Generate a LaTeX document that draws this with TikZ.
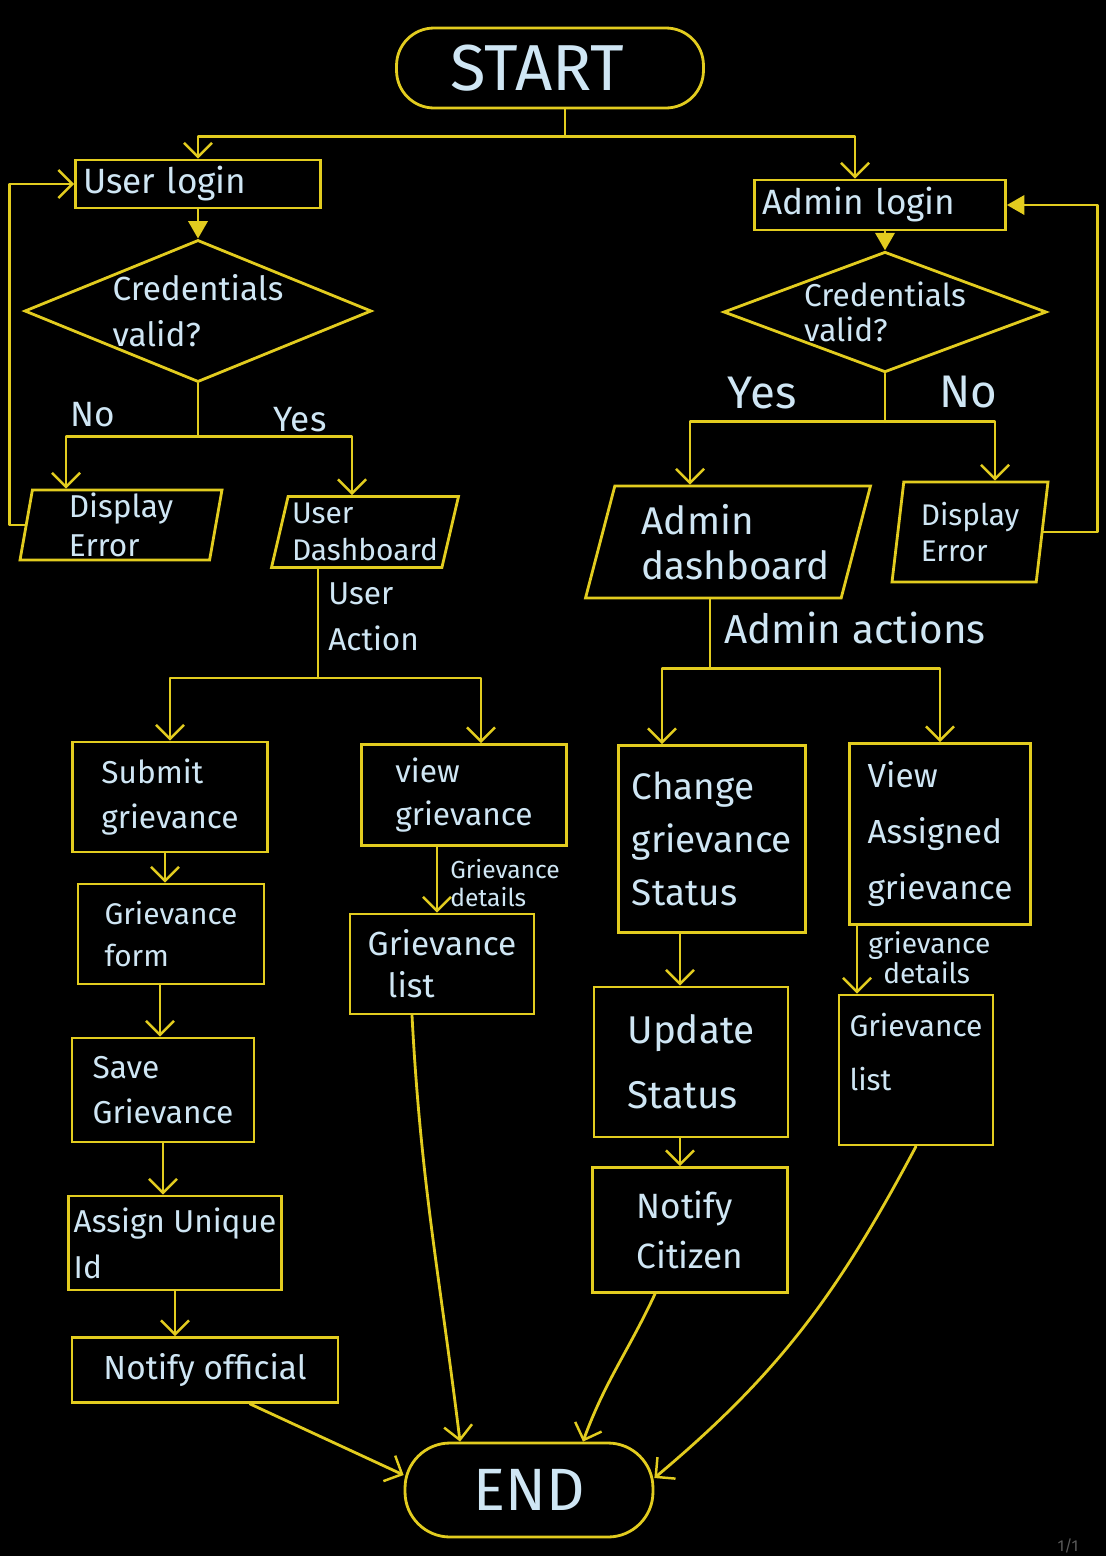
\documentclass[tikz,border=0pt]{standalone}
\usepackage{fontspec}
\setmainfont{Fira Sans}
\usetikzlibrary{shapes.geometric,arrows.meta}

\definecolor{hand}{HTML}{E2CC1F}
\definecolor{ink}{HTML}{CFE6F4}
\definecolor{pagegray}{HTML}{5A5A5A}
\newcommand{\hw}[2]{\fontsize{#1}{#2}\selectfont}

\tikzset{
  ln/.style={draw=hand, line width=1.6pt, line cap=round, line join=round},
  arr/.style={ln, -{Straight Barb[length=8pt,width=16pt,line width=1.4pt]}},
  farr/.style={ln, -{Triangle[length=10pt,width=11pt]}},
  box/.style={draw=hand, line width=1.6pt, text=ink, align=left, inner sep=0pt},
  pill/.style={box, rectangle, rounded corners=0.75cm},
  para/.style 2 args={box, trapezium, trapezium stretches body,
    trapezium left angle=#1, trapezium right angle=#2},
  ask/.style={box, diamond, aspect=#1},
  lbl/.style={text=ink, align=left, inner sep=0pt},
}

\begin{document}
\begin{tikzpicture}[x=0.02cm, y=-0.02cm]
  \fill[black] (0,0) rectangle (1106,1556);
  \useasboundingbox (0,0) rectangle (1106,1556);

  % Start and login boxes
  \node[pill, minimum width=6.14cm, minimum height=1.6cm, font=\hw{37}{40}] (start) at (550,68) {START\hspace*{0.5cm}};
  \node[box, minimum width=4.9cm, minimum height=0.96cm, text width=4.6cm, font=\hw{20}{24}] (ulogin) at (198,184) {User login};
  \node[box, minimum width=5.02cm, minimum height=1.0cm, text width=4.7cm, font=\hw{20}{24}] (alogin) at (880,205) {Admin login};

  % Checks
  \node[ask=2.44, minimum width=6.94cm, minimum height=2.84cm, font=\hw{19}{26}] (ucheck) at (198,311) {Credentials\\valid?};
  \node[ask=2.68, minimum width=6.44cm, minimum height=2.4cm, font=\hw{18}{20}] (acheck) at (885,312) {Credentials\\valid?};

  % Outcomes of the checks
  \node[lbl, font=\hw{20}{24}] (uno) at (93,415) {No};
  \node[lbl, font=\hw{20}{24}] (uyes) at (300,420) {Yes};
  \node[lbl, font=\hw{26}{28}] (ayes) at (762,393) {Yes};
  \node[lbl, font=\hw{26}{28}] (ano) at (968,392) {No};
  \node[para={79}{101}, minimum width=4.04cm, minimum height=1.4cm, font=\hw{18}{22}] (uerr) at (121,525) {Display\\Error};
  \node[para={74}{106}, minimum width=3.74cm, minimum height=1.42cm, font=\hw{17}{21}] (udash) at (365,532) {User\\Dashboard};
  \node[para={69}{111}, minimum width=5.7cm, minimum height=2.24cm, font=\hw{22}{26}] (adash) at (728,542) {\hspace*{0.3cm}Admin\\\hspace*{0.3cm}dashboard};
  \node[para={79}{101}, minimum width=3.12cm, minimum height=2.0cm, font=\hw{17}{21}] (aerr) at (970,532) {Display\\Error};

  % User side
  \node[lbl, anchor=west, font=\hw{18}{26}] (uactlbl) at (328,617) {User\\Action};
  \node[box, minimum width=3.9cm, minimum height=2.2cm, font=\hw{18}{26}] (submit) at (170,797) {Submit\\grievance};
  \node[box, minimum width=3.72cm, minimum height=2.0cm, font=\hw{17}{24}] (gform) at (171,934) {Grievance\\form};
  \node[box, minimum width=3.64cm, minimum height=2.08cm, font=\hw{18}{26}] (gsave) at (163,1090) {Save\\Grievance};
  \node[box, minimum width=4.26cm, minimum height=1.88cm, font=\hw{18}{26}] (gid) at (175,1243) {Assign Unique\\Id};
  \node[box, minimum width=5.32cm, minimum height=1.3cm, font=\hw{19}{24}] (notifyo) at (205,1370) {Notify official};
  \node[box, minimum width=4.1cm, minimum height=2.02cm, font=\hw{18}{24}] (viewg) at (464,795) {view\\grievance};
  \node[lbl, anchor=west, font=\hw{14}{16}] (udet) at (450,883) {Grievance\\details};
  \node[box, minimum width=3.68cm, minimum height=2.0cm, font=\hw{19}{24}] (ulist) at (442,964) {Grievance\\\hspace*{0.4cm}list};

  % Admin side
  \node[lbl, font=\hw{23}{26}] (aactlbl) at (855,628) {Admin actions};
  \node[box, minimum width=3.74cm, minimum height=3.74cm, font=\hw{21}{30}] (chg) at (712,839) {Change\\grievance\\Status};
  \node[box, minimum width=3.62cm, minimum height=3.62cm, font=\hw{19}{32}] (viewa) at (940,834) {View\\Assigned\\grievance};
  \node[lbl, anchor=west, font=\hw{16}{17}] (adet) at (868,958) {grievance\\\hspace*{0.3cm}details};
  \node[box, minimum width=3.88cm, minimum height=3.0cm, font=\hw{22}{37}] (upd) at (691,1062) {Update\\Status};
  \node[box, minimum width=3.9cm, minimum height=2.5cm, font=\hw{20}{28}] (notifyc) at (690,1230) {Notify\\Citizen};
  \node[box, minimum width=3.08cm, minimum height=3.0cm, text depth=0.72cm, font=\hw{17}{31}] (alist) at (916,1070) {Grievance\\list};

  % End
  \node[pill, minimum width=4.96cm, minimum height=1.88cm, rounded corners=0.9cm, font=\hw{34}{38}] (stop) at (529,1490) {END};
  \node[text=pagegray, inner sep=0pt, font=\hw{9}{10}] (page) at (1068,1546) {1/1};

  % Connectors from start
  \draw[ln] ([xshift=0.3cm]start.south) -- ++(0,27) coordinate (split);
  \draw[arr] (split) -| (ulogin.north);
  \draw[arr] (split) -| ([xshift=-0.5cm]alogin.north);
  \draw[farr] (ulogin.south) -- (ucheck.north);
  \draw[farr] (acheck.north |- alogin.south) -- (acheck.north);

  % User branch
  \draw[ln] (ucheck.south) -- ++(0,53) coordinate (ufork);
  \draw[arr] (ufork) -| ([xshift=-1.1cm]uerr.north);
  \draw[arr] (ufork) -| ([xshift=-0.26cm]udash.north);
  \draw[arr] (uerr.west) -- ++(-15,0) |- (ulogin.west);
  \draw[ln] ([xshift=-0.94cm]udash.south) -- ++(0,109) coordinate (uact);
  \draw[arr] (uact) -| (submit.north);
  \draw[arr] (uact) -| ([xshift=0.34cm]viewg.north);
  \draw[arr] ([xshift=-0.1cm]submit.south) -- ([xshift=-0.1cm]submit.south |- gform.north);
  \draw[arr] ([xshift=-0.22cm]gform.south) -- ([xshift=-0.22cm]gform.south |- gsave.north);
  \draw[arr] (gsave.south) -- (gsave.south |- gid.north);
  \draw[arr] (gid.south) -- (gid.south |- notifyo.north);
  \draw[arr] ([xshift=0.9cm]notifyo.south) -- ([yshift=0.3cm]stop.west);
  \draw[arr] ([xshift=-0.54cm]viewg.south) -- ([xshift=-0.54cm]viewg.south |- ulist.north);
  \draw[arr] ([xshift=-0.6cm]ulist.south) to[out=-87, in=97] ([xshift=-1.38cm]stop.north);

  % Admin branch
  \draw[ln] (acheck.south) -- ++(0,48) coordinate (afork);
  \draw[arr] (afork) -| ([xshift=-0.76cm]adash.north);
  \draw[arr] (afork) -| ([xshift=0.5cm]aerr.north);
  \draw[farr] (aerr.east) -- ++(54,0) |- (alogin.east);
  \draw[ln] ([xshift=-0.36cm]adash.south) -- ++(0,69) coordinate (aact);
  \draw[arr] (aact) -| ([xshift=-1cm]chg.north);
  \draw[arr] (aact) -| (viewa.north);
  \draw[arr] ([xshift=-0.64cm]chg.south) -- ([xshift=-0.64cm]chg.south |- upd.north);
  \draw[arr] ([xshift=-0.22cm]upd.south) -- ([xshift=-0.22cm]upd.south |- notifyc.north);
  \draw[arr] ([xshift=-0.7cm]notifyc.south) to[out=-115, in=70] ([xshift=1.08cm]stop.north);
  \draw[arr] ([xshift=-1.66cm]viewa.south) -- ([xshift=-1.66cm]viewa.south |- alist.north);
  \draw[arr] (alist.south) to[out=-118, in=40] ([yshift=0.24cm]stop.east);
\end{tikzpicture}
\end{document}
